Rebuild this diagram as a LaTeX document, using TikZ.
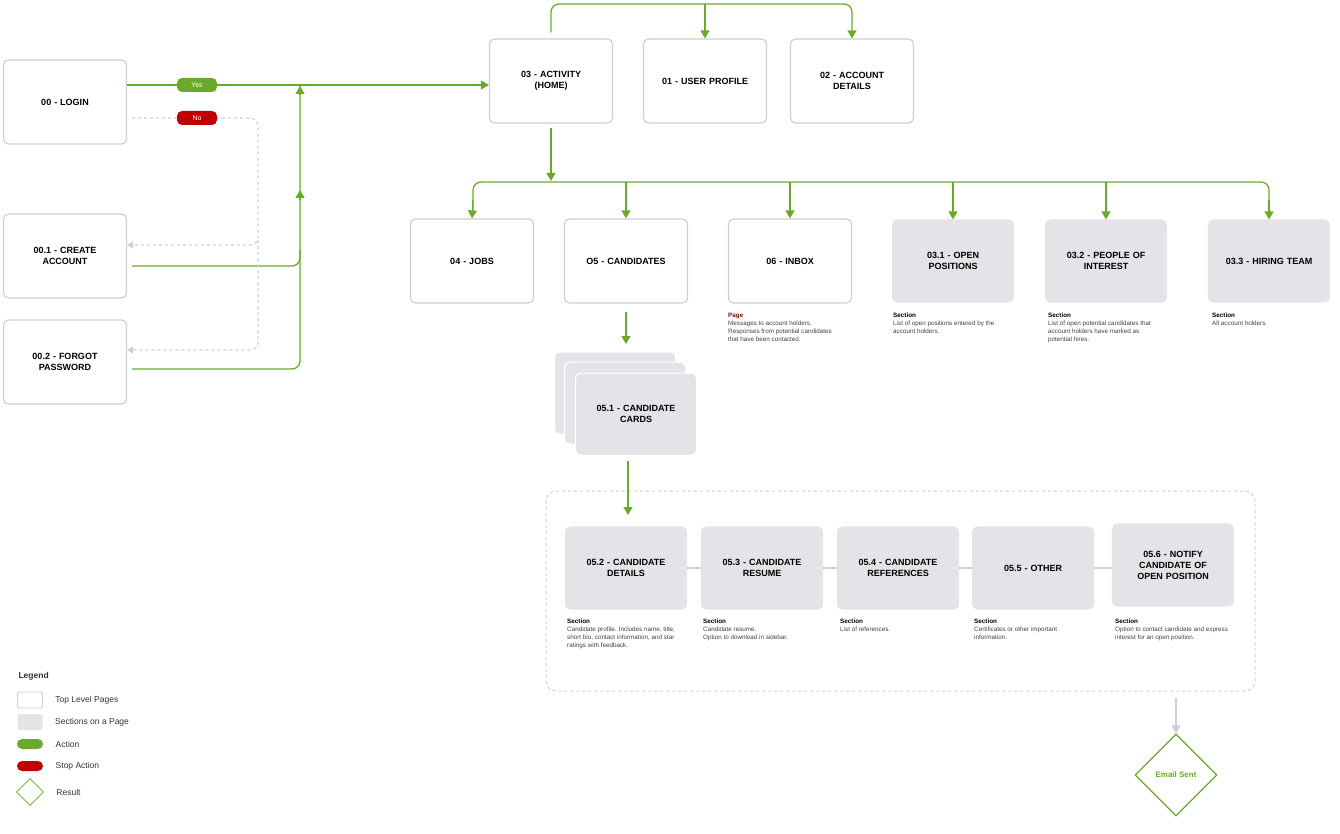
\documentclass[tikz,border=0pt]{standalone}
\usepackage{fontspec}
\setmainfont{Liberation Sans}
\usetikzlibrary{shapes.geometric,arrows.meta}
\definecolor{gr}{HTML}{6AAA2A}
\definecolor{rd}{HTML}{C00000}
\definecolor{sec}{HTML}{E4E4E8}
\definecolor{bd}{HTML}{CFCFD2}
\definecolor{pg}{HTML}{7A1010}
\begin{document}
\begin{tikzpicture}[x=1pt,y=-1pt,
 page/.style={draw=bd,line width=1.2pt,fill=white,rounded corners=5pt,minimum width=123pt,minimum height=84pt,align=center,font=\fontsize{9}{11}\selectfont\bfseries,text width=110pt},
 sect/.style={page,fill=sec,draw=sec,minimum width=121pt,minimum height=82pt},
 link/.style={gr,line width=1.3pt,rounded corners=8pt},
 arr/.style={link,-{Triangle[width=9pt,length=8pt]}},
 no/.style={bd,line width=1.2pt,dashed,rounded corners=8pt,-{Triangle[width=7pt,length=6pt]}},
 note/.style={anchor=north west,align=left,font=\fontsize{6.3}{8}\selectfont,text=black!75,inner sep=0pt},
 pill/.style={rounded corners=5pt,minimum width=40pt,minimum height=14pt,inner sep=0pt,text=white,font=\fontsize{7}{8}\selectfont}]
\useasboundingbox (0,0) rectangle (1340,834);
% pages
\node[page] (login) at (65,102) {00 - LOGIN};
\node[page] (create) at (65,256) {00.1 - CREATE\\ACCOUNT};
\node[page] (forgot) at (65,362) {00.2 - FORGOT\\PASSWORD};
\node[page] (act) at (551,81) {03 - ACTIVITY\\(HOME)};
\node[page] (user) at (705,81) {01 - USER PROFILE};
\node[page] (acct) at (852,81) {02 - ACCOUNT\\DETAILS};
\node[page] (jobs) at (472,261) {04 - JOBS};
\node[page] (cand) at (626,261) {O5 - CANDIDATES};
\node[page] (inbox) at (790,261) {06 - INBOX};
\node[sect] (open) at (953,261) {03.1 - OPEN\\POSITIONS};
\node[sect] (poi) at (1106,261) {03.2 - PEOPLE OF\\INTEREST};
\node[sect] (hire) at (1269,261) {03.3 - HIRING TEAM};
% stack
\node[sect,draw=white,line width=1pt] (c1) at (615,393) {};
\node[sect,draw=white,line width=1pt] (c2) at (625,403) {};
\node[sect,draw=white,line width=1pt] (cards) at (636,414) {05.1 - CANDIDATE\\CARDS};
% container
\draw[bd,line width=1pt,dashed,rounded corners=10pt] (546,491) rectangle (1255,691);
\node[sect] (d2) at (626,568) {05.2 - CANDIDATE\\DETAILS};
\node[sect] (d3) at (762,568) {05.3 - CANDIDATE\\RESUME};
\node[sect] (d4) at (898,568) {05.4 - CANDIDATE\\REFERENCES};
\node[sect] (d5) at (1033,568) {05.5 - OTHER};
\node[sect] (d6) at (1173,565) {05.6 - NOTIFY\\CANDIDATE OF\\OPEN POSITION};
\foreach \a/\b in {d2/d3,d3/d4,d4/d5} \draw[bd,line width=1.2pt] (\a.east) -- (\b.west);
\draw[bd,line width=1.2pt] (d5.east) -- (d6.west |- d5.east);
\node[diamond,draw=gr,line width=1.3pt,fill=white,minimum width=82pt,minimum height=82pt,inner sep=0pt,text=gr,font=\fontsize{8}{9}\selectfont\bfseries] (email) at (1176,775) {Email Sent};
\draw[bd,line width=1.2pt,-{Triangle[width=9pt,length=8pt]}] (1176,698) -- (email.north);
% notes
\node[note] (n6) at (728,313) {{\color{pg}\bfseries Page}\\Messages to account holders.\\Responses from potential candidates\\that have been contacted.};
\node[note] (n31) at (893,313) {{\color{black}\bfseries Section}\\List of open positions entered by the\\account holders.};
\node[note] (n32) at (1048,313) {{\color{black}\bfseries Section}\\List of open potential candidates that\\account holders have marked as\\potential hires.};
\node[note] (n33) at (1212,313) {{\color{black}\bfseries Section}\\All account holders.};
\node[note] (m2) at (567,619) {{\color{black}\bfseries Section}\\Candidate profile. Includes name, title,\\short bio, contact information, and star\\ratings with feedback.};
\node[note] (m3) at (703,619) {{\color{black}\bfseries Section}\\Candidate resume.\\Option to download in sidebar.};
\node[note] (m4) at (840,619) {{\color{black}\bfseries Section}\\List of references.};
\node[note] (m5) at (974,619) {{\color{black}\bfseries Section}\\Certificates or other important\\information.};
\node[note] (m6) at (1115,619) {{\color{black}\bfseries Section}\\Option to contact candidate and express\\interest for an open position.};
% login flows
\coordinate (cr) at (132,266);
\coordinate (fr) at (132,369);
\draw[arr] (login.east |- 0,85) -- (act.west |- 0,85);
\node[pill,fill=gr] (yes) at (197,85) {Yes};
\draw[link] (cr) -- (300,266) -- (300,85);
\draw[link] (fr) -- (300,369) -- (300,250);
\draw[arr] (300,200) -- (300,190);
\draw[arr] (300,95) -- (300,86);
\draw[no] (132,118) -- (258,118) -- (258,245) -- (create.east |- 0,245);
\draw[no] (258,240) -- (258,350) -- (forgot.east |- 0,350);
\node[pill,fill=rd] (nop) at (197,118) {No};
% top
\draw[arr] (act.north) ++(0,-6) -- (551,4) -- (852,4) -- (acct.north);
\draw[arr] (705,4) -- (user.north);
% activity branches
\draw[arr] (act.south) ++(0,4) -- (551,181);
\draw[link] (473,212) -- (473,182) -- (1269,182) -- (1269,212);
\draw[arr] (473,200) -- (jobs.north);
\draw[arr] (1269,200) -- (hire.north);
\foreach \n/\x in {cand/626,inbox/790,open/953,poi/1106} \draw[arr] (\x,182) -- (\n.north);
\draw[arr] (cand.south) ++(0,8) -- (626,344);
\draw[arr] (628,461) -- (628,515);
% legend
\node[anchor=west,font=\fontsize{8.5}{9}\selectfont\bfseries,text=black!80] (lg) at (15,676) {Legend};
\node[draw=bd,line width=0.8pt,fill=white,rounded corners=2pt,minimum width=25pt,minimum height=16pt,inner sep=0pt] (l1) at (30,700) {};
\node[fill=sec,rounded corners=2pt,minimum width=25pt,minimum height=16pt,inner sep=0pt] (l2) at (30,722) {};
\node[fill=gr,rounded corners=5pt,minimum width=26pt,minimum height=10pt,inner sep=0pt] (l3) at (30,744) {};
\node[fill=rd,rounded corners=5pt,minimum width=26pt,minimum height=10pt,inner sep=0pt] (l4) at (30,766) {};
\node[diamond,draw=gr,line width=0.8pt,fill=white,minimum width=27pt,minimum height=27pt,inner sep=0pt] (l5) at (30,792) {};
\foreach \n/\t in {l1/Top Level Pages,l2/Sections on a Page,l3/Action,l4/Stop Action,l5/Result}
 \node[anchor=west,font=\fontsize{8.5}{9}\selectfont,text=black!80] at ([xshift=9pt]\n.east) {\t};
\end{tikzpicture}
\end{document}
